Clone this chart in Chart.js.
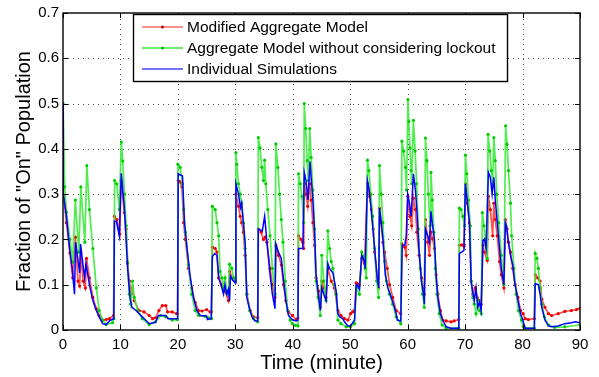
<!DOCTYPE html>
<html><head><meta charset="utf-8">
<script src="https://cdn.jsdelivr.net/npm/chart.js@4.4.0/dist/chart.umd.min.js"></script>
<style>html,body{margin:0;padding:0;background:#fff;}#wrap{width:599px;height:377px;position:relative;}</style>
</head><body><div id="wrap"><canvas id="c" width="599" height="377"></canvas></div>
<script>
const xTicks = [0,10,20,30,40,50,60,70,80,90];
const yTicks = [0,0.1,0.2,0.3,0.4,0.5,0.6,0.7];
const yTickLabels = ["0","0.1","0.2","0.3","0.4","0.5","0.6","0.7"];
const seriesNames = ["Modified Aggregate Model","Aggregate Model without considering lockout","Individual Simulations"];
const xTitle = "Time (minute)";
const yTitle = "Fraction of \"On\" Population";

const redT = [0,0.6,1.2,1.7,2.15,2.6,2.9,3.1,3.5,3.9,4.1,4.6,5.2,5.8,6.3,6.9,7.5,8.1,8.8,8.95,9.4,9.9,10.1,10.7,11.0,11.25,11.55,11.85,12.1,12.4,13.25,14.1,15.0,15.6,16.1,16.7,17.3,17.9,18.2,19.0,19.8,19.95,
20.05,20.4,20.7,21.0,21.3,21.85,22.4,23.0,23.6,24.2,25.0,25.6,25.85,26.0,26.5,26.8,27.1,27.65,28.2,28.8,29.0,29.7,30.0,30.1,30.55,30.85,31.1,31.4,31.7,32.0,32.6,33.15,33.9,34.0,34.5,34.9,35.2,35.5,36.05,36.45,36.9,37.05,37.5,38.0,38.4,38.8,39.25,39.95,
40.6,40.9,41.0,41.45,41.75,41.9,42.0,42.3,42.6,42.95,43.2,43.5,43.8,44.05,44.5,44.8,45.05,45.4,45.8,46.1,46.7,47.25,47.85,48.4,49.0,49.6,50.05,50.4,50.75,51.05,51.3,51.6,52.0,52.5,53.0,53.4,53.7,54.0,54.25,54.7,54.95,55.1,55.4,55.7,56.0,56.45,56.85,57.4,58.0,58.8,59.0,59.5,59.75,
60.05,60.4,60.7,61.0,61.35,61.6,62.0,62.4,62.7,62.9,63.1,63.5,63.8,64.05,64.35,64.65,64.95,65.25,65.7,66.1,66.7,67.55,68.1,68.9,69.0,69.4,69.8,70.05,70.4,70.75,71.05,71.35,71.75,72.1,72.5,72.8,73.1,73.35,73.85,74.05,74.4,74.8,75.0,75.25,75.6,76.0,76.3,76.75,77.0,77.3,77.55,77.9,78.3,78.7,79.2,79.65,80.1,
80.45,81.0,82.05,82.2,82.65,83.05,83.35,83.9,84.5,85.05,86.2,87.35,88.5,89.4,90];
const redV = [0.31,0.237,0.17,0.115,0.205,0.108,0.097,0.172,0.108,0.093,0.158,0.115,0.072,0.047,0.032,0.022,0.023,0.025,0.032,0.251,0.244,0.212,0.33,0.259,0.223,0.147,0.108,0.079,0.093,0.065,0.043,0.04,0.032,0.025,0.027,0.043,0.054,0.054,0.04,0.04,0.036,0.036,
0.33,0.327,0.316,0.237,0.2,0.136,0.093,0.061,0.043,0.042,0.045,0.04,0.04,0.183,0.18,0.172,0.115,0.10,0.086,0.065,0.129,0.111,0.108,0.30,0.273,0.251,0.237,0.216,0.165,0.079,0.043,0.029,0.027,0.223,0.216,0.20,0.205,0.194,0.136,0.10,0.072,0.187,0.165,0.144,0.10,0.065,0.04,0.032,
0.023,0.027,0.208,0.20,0.194,0.18,0.323,0.30,0.273,0.323,0.287,0.237,0.187,0.115,0.086,0.05,0.108,0.093,0.072,0.136,0.108,0.093,0.043,0.032,0.025,0.022,0.036,0.04,0.043,0.104,0.102,0.099,0.158,0.147,0.323,0.295,0.266,0.223,0.172,0.115,0.093,0.269,0.237,0.194,0.172,0.136,0.10,0.072,0.043,0.036,0.19,0.183,0.165,
0.295,0.251,0.23,0.291,0.266,0.216,0.165,0.115,0.093,0.079,0.244,0.194,0.165,0.216,0.201,0.18,0.122,0.079,0.043,0.022,0.02,0.018,0.02,0.023,0.187,0.188,0.185,0.323,0.28,0.237,0.108,0.079,0.093,0.072,0.065,0.057,0.187,0.172,0.154,0.295,0.266,0.208,0.28,0.244,0.208,0.151,0.122,0.093,0.244,0.223,0.194,0.172,0.136,0.10,0.072,0.043,0.036,
0.025,0.023,0.025,0.122,0.115,0.108,0.068,0.05,0.036,0.032,0.036,0.041,0.043,0.045,0.048];

const greenT = [0,0.3,0.6,1.2,1.7,2.15,2.75,3.1,3.8,4.15,4.6,5.2,5.8,6.3,6.9,7.5,8.6,8.85,9.0,9.35,9.8,10.15,10.4,10.7,11.0,11.25,11.55,11.8,12.1,12.4,13.0,13.8,15.0,16.1,17.0,17.9,19.0,19.9,
20.0,20.4,20.8,21.0,21.3,21.85,22.4,23.0,23.6,24.75,25.3,25.85,26.0,26.5,26.8,27.1,27.35,27.65,27.95,28.2,28.5,28.8,29.0,29.4,29.7,30.0,30.1,30.25,30.55,30.85,31.1,31.4,31.7,32.0,32.5,33.15,33.9,34.0,34.3,34.6,34.9,35.1,35.3,35.65,36.05,36.45,36.9,37.05,37.4,37.7,38.0,38.3,38.7,39.1,39.55,39.95,
40.5,40.9,41.0,41.3,41.6,41.9,42.0,42.25,42.5,42.7,42.95,43.2,43.5,43.8,44.05,44.4,44.8,45.05,45.4,45.8,46.1,46.4,46.7,47.0,47.25,47.55,47.85,48.4,49.3,50.05,50.75,51.05,51.6,52.0,52.4,52.6,52.8,53.0,53.25,53.6,53.9,54.25,54.6,54.95,55.1,55.4,55.7,56.0,56.3,56.85,57.4,58.0,58.8,59.0,59.3,59.6,59.8,
60.05,60.2,60.4,60.6,60.7,61.0,61.3,61.55,61.85,62.2,62.6,62.9,63.1,63.35,63.6,63.9,64.05,64.3,64.55,64.8,65.1,65.5,66.0,66.7,68.9,69.0,69.3,69.6,69.9,70.05,70.3,70.6,70.9,71.05,71.35,71.6,71.9,72.2,72.5,72.8,73.0,73.3,73.55,73.85,74.0,74.3,74.55,74.8,75.0,75.25,75.5,75.85,76.3,76.75,77.05,77.3,77.55,77.9,78.1,78.5,78.9,79.3,79.8,80.1,
80.45,82.05,82.2,82.5,82.75,83.05,83.35,83.8,84.5,85.6,87.35,90];
const greenV = [0.5,0.316,0.26,0.2,0.15,0.287,0.172,0.316,0.194,0.363,0.266,0.18,0.093,0.043,0.022,0.012,0.016,0.025,0.33,0.323,0.266,0.415,0.373,0.30,0.23,0.15,0.079,0.057,0.108,0.072,0.043,0.025,0.012,0.018,0.032,0.029,0.022,0.023,
0.366,0.359,0.323,0.266,0.216,0.144,0.079,0.043,0.032,0.03,0.027,0.025,0.273,0.266,0.237,0.208,0.129,0.115,0.093,0.115,0.086,0.079,0.145,0.136,0.115,0.108,0.392,0.366,0.323,0.30,0.28,0.237,0.18,0.079,0.043,0.025,0.018,0.425,0.402,0.359,0.33,0.375,0.323,0.266,0.208,0.136,0.079,0.411,0.359,0.30,0.244,0.194,0.108,0.043,0.022,0.014,
0.01,0.009,0.345,0.323,0.295,0.237,0.5,0.445,0.374,0.33,0.445,0.381,0.309,0.223,0.108,0.072,0.032,0.165,0.108,0.065,0.219,0.18,0.151,0.136,0.10,0.079,0.022,0.014,0.007,0.007,0.014,0.093,0.079,0.172,0.162,0.136,0.115,0.375,0.352,0.30,0.251,0.18,0.108,0.072,0.363,0.30,0.237,0.151,0.108,0.079,0.057,0.029,0.014,0.417,0.395,0.359,0.309,
0.509,0.46,0.402,0.352,0.323,0.463,0.395,0.323,0.223,0.136,0.079,0.05,0.424,0.374,0.30,0.23,0.348,0.287,0.216,0.136,0.079,0.036,0.011,0.004,0.004,0.269,0.266,0.251,0.23,0.386,0.345,0.287,0.23,0.108,0.072,0.057,0.036,0.065,0.043,0.036,0.259,0.23,0.201,0.158,0.432,0.395,0.352,0.323,0.425,0.374,0.30,0.237,0.165,0.10,0.451,0.41,0.352,0.28,0.208,0.136,0.079,0.043,0.022,0.007,
0.004,0.004,0.169,0.158,0.136,0.093,0.057,0.029,0.011,0.006,0.007,0.011];

const blueT = [0,0.05,0.6,1.15,1.6,2.0,2.2,2.9,3.05,3.75,4.0,4.6,5.2,5.8,6.3,6.9,7.5,8.1,8.85,8.95,9.3,9.8,10.15,10.7,11.0,11.25,11.65,12.0,12.7,13.8,15.0,16.1,16.6,17.9,18.3,19.0,19.95,
20.05,20.8,21.15,21.6,22.1,22.7,23.3,23.9,25.0,25.15,25.8,26.0,26.4,26.8,27.1,27.65,27.95,28.2,28.5,28.8,29.0,29.15,29.5,30.0,30.1,30.55,30.9,31.1,31.4,31.7,32.0,32.4,32.9,33.45,33.9,34.0,34.7,35.1,35.5,36.05,36.45,36.9,37.05,37.5,38.0,38.4,38.8,39.25,39.8,
40.0,40.6,40.9,41.0,41.75,42.0,42.3,42.65,43.0,43.2,43.5,43.8,44.05,44.5,44.8,45.05,45.4,45.8,46.1,46.4,47.0,47.25,47.55,47.85,48.2,48.7,49.0,49.6,50.05,50.75,51.05,51.3,51.6,52.0,52.4,52.6,53.0,53.3,53.6,53.85,54.25,54.7,54.95,55.1,55.4,55.7,56.1,56.55,57.15,57.7,58.0,58.2,58.8,59.05,59.5,59.75,
60.0,60.3,60.6,61.0,61.35,61.6,62.0,62.4,62.75,62.9,63.1,63.5,63.8,64.05,64.35,64.65,64.95,65.25,65.7,66.1,66.7,67.5,68.9,69.0,69.4,69.8,70.05,70.35,70.75,71.05,71.3,71.6,71.9,72.2,72.5,72.8,73.1,73.35,73.65,74.05,74.4,74.7,75.0,75.25,75.6,76.0,76.3,76.75,77.0,77.2,77.45,77.7,78.0,78.3,78.6,79.2,79.65,80.05,
80.45,82.05,82.2,82.75,83.05,83.35,83.9,84.5,85.05,86.2,87.35,88.5,89.2,90];
const blueV = [0.5,0.302,0.251,0.18,0.136,0.079,0.194,0.126,0.19,0.115,0.147,0.10,0.065,0.043,0.029,0.014,0.012,0.02,0.025,0.24,0.24,0.208,0.346,0.266,0.194,0.136,0.072,0.05,0.043,0.029,0.014,0.017,0.032,0.032,0.025,0.025,0.025,
0.345,0.34,0.237,0.18,0.122,0.072,0.043,0.032,0.031,0.023,0.025,0.162,0.169,0.165,0.115,0.093,0.079,0.10,0.079,0.09,0.065,0.119,0.111,0.104,0.323,0.30,0.27,0.28,0.237,0.194,0.072,0.05,0.029,0.02,0.02,0.223,0.219,0.251,0.194,0.122,0.079,0.047,0.19,0.172,0.158,0.108,0.065,0.032,0.025,
0.022,0.02,0.022,0.18,0.18,0.348,0.33,0.287,0.372,0.337,0.287,0.216,0.122,0.072,0.043,0.093,0.079,0.065,0.147,0.136,0.126,0.108,0.086,0.036,0.029,0.025,0.018,0.009,0.009,0.022,0.10,0.097,0.09,0.165,0.154,0.136,0.33,0.309,0.273,0.237,0.18,0.115,0.093,0.269,0.237,0.20,0.122,0.093,0.072,0.05,0.036,0.022,0.02,0.187,0.187,0.208,
0.30,0.28,0.251,0.345,0.309,0.266,0.172,0.108,0.079,0.057,0.223,0.208,0.194,0.262,0.23,0.201,0.122,0.072,0.036,0.022,0.007,0.004,0.004,0.169,0.172,0.176,0.323,0.287,0.237,0.108,0.086,0.065,0.093,0.05,0.061,0.043,0.198,0.201,0.18,0.348,0.337,0.30,0.337,0.287,0.237,0.18,0.136,0.10,0.237,0.23,0.201,0.18,0.158,0.144,0.108,0.065,0.036,0.022,
0.004,0.004,0.102,0.10,0.079,0.05,0.022,0.009,0.007,0.009,0.014,0.016,0.018,0.016];

const pts = (ts, vs) => ts.map((t, i) => ({x: t, y: vs[i]}));
const FONT = "'Liberation Sans', Arial, Helvetica, sans-serif";

const frameAndGrid = {
  id: 'frameAndGrid',
  beforeDatasetsDraw(chart) {
    const {ctx, chartArea: a, scales: {x, y}} = chart;
    ctx.save();
    ctx.strokeStyle = 'rgba(0,0,0,0.7)';
    ctx.lineWidth = 1;
    ctx.setLineDash([1, 4]);
    xTicks.forEach(v => {
      if (v === xTicks[0] || v === xTicks[xTicks.length - 1]) return;
      const px = Math.round(x.getPixelForValue(v)) + 0.5;
      ctx.beginPath(); ctx.moveTo(px, a.bottom); ctx.lineTo(px, a.top); ctx.stroke();
    });
    yTicks.forEach(v => {
      if (v === yTicks[0] || v === yTicks[yTicks.length - 1]) return;
      const py = Math.round(y.getPixelForValue(v)) + 0.5;
      ctx.beginPath(); ctx.moveTo(a.left, py); ctx.lineTo(a.right, py); ctx.stroke();
    });
    ctx.restore();
  },
  afterDatasetsDraw(chart) {
    const {ctx, chartArea: a, scales: {x, y}} = chart;
    ctx.save();
    ctx.strokeStyle = '#000';
    ctx.lineWidth = 1.4;
    ctx.strokeRect(a.left, a.top, a.right - a.left, a.bottom - a.top);
    ctx.lineWidth = 1;
    const tl = 5;
    xTicks.forEach(v => {
      const px = Math.round(x.getPixelForValue(v)) + 0.5;
      ctx.beginPath(); ctx.moveTo(px, a.bottom); ctx.lineTo(px, a.bottom - tl);
      ctx.moveTo(px, a.top); ctx.lineTo(px, a.top + tl); ctx.stroke();
    });
    yTicks.forEach(v => {
      const py = Math.round(y.getPixelForValue(v)) + 0.5;
      ctx.beginPath(); ctx.moveTo(a.left, py); ctx.lineTo(a.left + tl, py);
      ctx.moveTo(a.right, py); ctx.lineTo(a.right - tl, py); ctx.stroke();
    });
    // legend box
    const bx = 133, by = 14, bw = 374, bh = 67;
    ctx.fillStyle = '#fff';
    ctx.fillRect(bx, by, bw, bh);
    ctx.strokeStyle = '#000';
    ctx.lineWidth = 1.4;
    ctx.strokeRect(bx + 0.5, by + 0.5, bw, bh);
    const rows = [27, 48, 69];
    const lineCols = ['rgba(255,70,70,0.8)', 'rgba(40,230,40,0.9)', 'rgba(90,90,255,0.85)'];
    const dotCols = ['#d00000', '#00c000', null];
    ctx.font = "15.5px " + FONT;
    ctx.textBaseline = 'middle';
    ctx.textAlign = 'left';
    seriesNames.forEach((name, i) => {
      const ry = rows[i];
      ctx.strokeStyle = lineCols[i];
      ctx.lineWidth = i === 2 ? 1.8 : 1.4;
      ctx.beginPath(); ctx.moveTo(142, ry); ctx.lineTo(183, ry); ctx.stroke();
      if (dotCols[i]) {
        ctx.fillStyle = dotCols[i];
        ctx.beginPath(); ctx.arc(162.5, ry, 1.5, 0, Math.PI * 2); ctx.fill();
      }
      ctx.fillStyle = '#000';
      ctx.fillText(name, 187, ry + 1);
    });
    ctx.restore();
  }
};

new Chart(document.getElementById('c'), {
  type: 'line',
  data: {
    datasets: [
      {label: seriesNames[0], data: pts(redT, redV), borderColor: 'rgba(255,50,50,0.85)', backgroundColor: '#ff0000',
       pointBackgroundColor: '#f00000', pointBorderWidth: 0, pointRadius: 1.6, borderWidth: 1.7, order: 3},
      {label: seriesNames[1], data: pts(greenT, greenV), borderColor: 'rgba(60,235,60,0.9)', backgroundColor: '#00dd00',
       pointBackgroundColor: '#00cc00', pointBorderWidth: 0, pointRadius: 1.6, borderWidth: 1.7, order: 2},
      {label: seriesNames[2], data: pts(blueT, blueV), borderColor: '#0000ff', backgroundColor: '#0000ff',
       pointRadius: 0, borderWidth: 1.5, order: 1}
    ]
  },
  options: {
    responsive: false,
    animation: false,
    devicePixelRatio: 1,
    layout: {padding: {left: 0, right: 19, top: 5, bottom: 0}},
    elements: {line: {tension: 0}},
    plugins: {legend: {display: false}, tooltip: {enabled: false}},
    scales: {
      x: {
        type: 'linear', min: 0, max: 90,
        afterBuildTicks: s => { s.ticks = xTicks.map(v => ({value: v})); },
        afterFit: s => { s.height = 47; },
        grid: {display: false, drawTicks: false},
        border: {display: false},
        ticks: {color: '#000', font: {family: FONT, size: 15}, padding: 6, maxRotation: 0,
                callback: v => String(v)},
        title: {display: true, text: xTitle, color: '#000', font: {family: FONT, size: 20}, padding: {top: 0, bottom: 2}}
      },
      y: {
        type: 'linear', min: 0, max: 0.7,
        afterBuildTicks: s => { s.ticks = yTicks.map(v => ({value: v})); },
        afterFit: s => { s.width = 63; },
        grid: {display: false, drawTicks: false},
        border: {display: false},
        ticks: {color: '#000', font: {family: FONT, size: 15}, padding: 4,
                callback: (v) => { const i = yTicks.findIndex(t => Math.abs(t - v) < 1e-9); return i >= 0 ? yTickLabels[i] : ''; }},
        title: {display: true, text: yTitle, color: '#000', font: {family: FONT, size: 20}, padding: {top: 12, bottom: 0}}
      }
    }
  },
  plugins: [frameAndGrid]
});
</script>
</body></html>
